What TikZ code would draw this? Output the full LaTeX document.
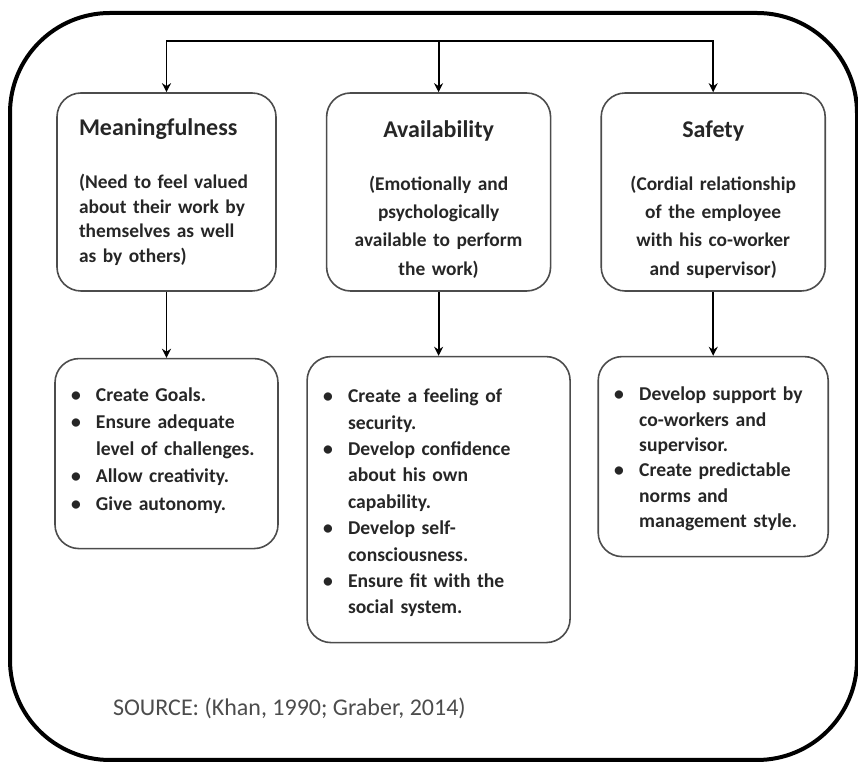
\documentclass[tikz,border=0pt]{standalone}
\usepackage{fontspec}
\setmainfont{Carlito}
\usetikzlibrary{arrows.meta,positioning}

% heading inside the upper boxes
\newcommand{\boxhead}[1]{{\fontsize{12}{14}\selectfont #1}}
% one bullet point with hanging indent
\newcommand{\blt}[1]{\par\noindent\hangindent=12.5pt\hangafter=1\makebox[12.5pt][l]{\textbullet}#1\par}

\begin{document}
\begin{tikzpicture}[x=0.5pt, y=-0.5pt,
  box/.style={draw=black!70, line width=0.8pt, rounded corners=12pt, text=black!85, inner ysep=0pt},
  topbox/.style={box, minimum height=99pt, inner xsep=8pt, text width=96pt, align=center,
    font=\fontsize{9.7}{14.2}\selectfont\bfseries},
  listbox/.style={box, inner xsep=8pt, align=left, font=\fontsize{9.8}{13.2}\selectfont\bfseries},
  link/.style={line width=0.9pt, ->},
  >={Stealth[length=4.5pt, width=4.5pt]}]
\useasboundingbox (0,0) rectangle (858,763);
\draw[line width=2pt, rounded corners=50pt] (10,13) rectangle (857,760);

% upper row
\node[topbox, align=left, text width=87.5pt, inner xsep=11pt, font=\fontsize{9.7}{12.25}\selectfont\bfseries]
  (mean) at (166.5,192) {\boxhead{Meaningfulness}\\[14.2pt](Need to feel valued\\about their work by\\themselves as well\\as by others)};
\node[topbox, right=24.5pt of mean] (avail) {\boxhead{\rule{0pt}{16pt}Availability}\\[12pt](Emotionally and\\psychologically\\available to perform\\the work)};
\node[topbox, right=24.5pt of avail] (safe) {\boxhead{\rule{0pt}{16pt}Safety}\\[12pt](Cordial relationship\\of the employee\\with his co-worker\\and supervisor)};

% lower row
\node[listbox, text width=95.5pt, minimum height=95pt, below=33pt of mean, font=\fontsize{9.8}{13.6}\selectfont\bfseries] (mlist)
  {\blt{Create Goals.}\blt{Ensure adequate\newline level of challenges.}\blt{Allow creativity.}\blt{Give autonomy.}\vspace{10pt}};
\node[listbox, text width=115.5pt, minimum height=143pt, below=32pt of avail] (alist)
  {\blt{Create a feeling of\newline security.}\blt{Develop confidence\newline about his own\newline capability.}\blt{Develop self-\newline consciousness.}\blt{Ensure fit with the\newline social system.}\vspace{3pt}};
\node[listbox, text width=99pt, minimum height=100pt, below=32pt of safe, font=\fontsize{9.8}{12.7}\selectfont\bfseries] (slist)
  {\blt{Develop support by\newline co-workers and\newline supervisor.}\blt{Create predictable\newline norms and\newline management style.}\vspace{3.5pt}};

\coordinate[above=25.5pt of avail.north] (hub);
\draw[line width=0.9pt] (hub -| mean) -- (hub -| safe);
\draw[link] (hub) -| (mean);
\draw[link] (hub) -- (avail);
\draw[link] (hub) -| (safe);
\draw[link] (mean) -- (mlist);
\draw[link] (avail) -- (alist);
\draw[link] (safe) -- (slist);

\node[anchor=west, text=black!70, font=\fontsize{12}{14}\selectfont] (src) at (106,708)
  {SOURCE: (Khan, 1990; Graber, 2014)};
\end{tikzpicture}
\end{document}
